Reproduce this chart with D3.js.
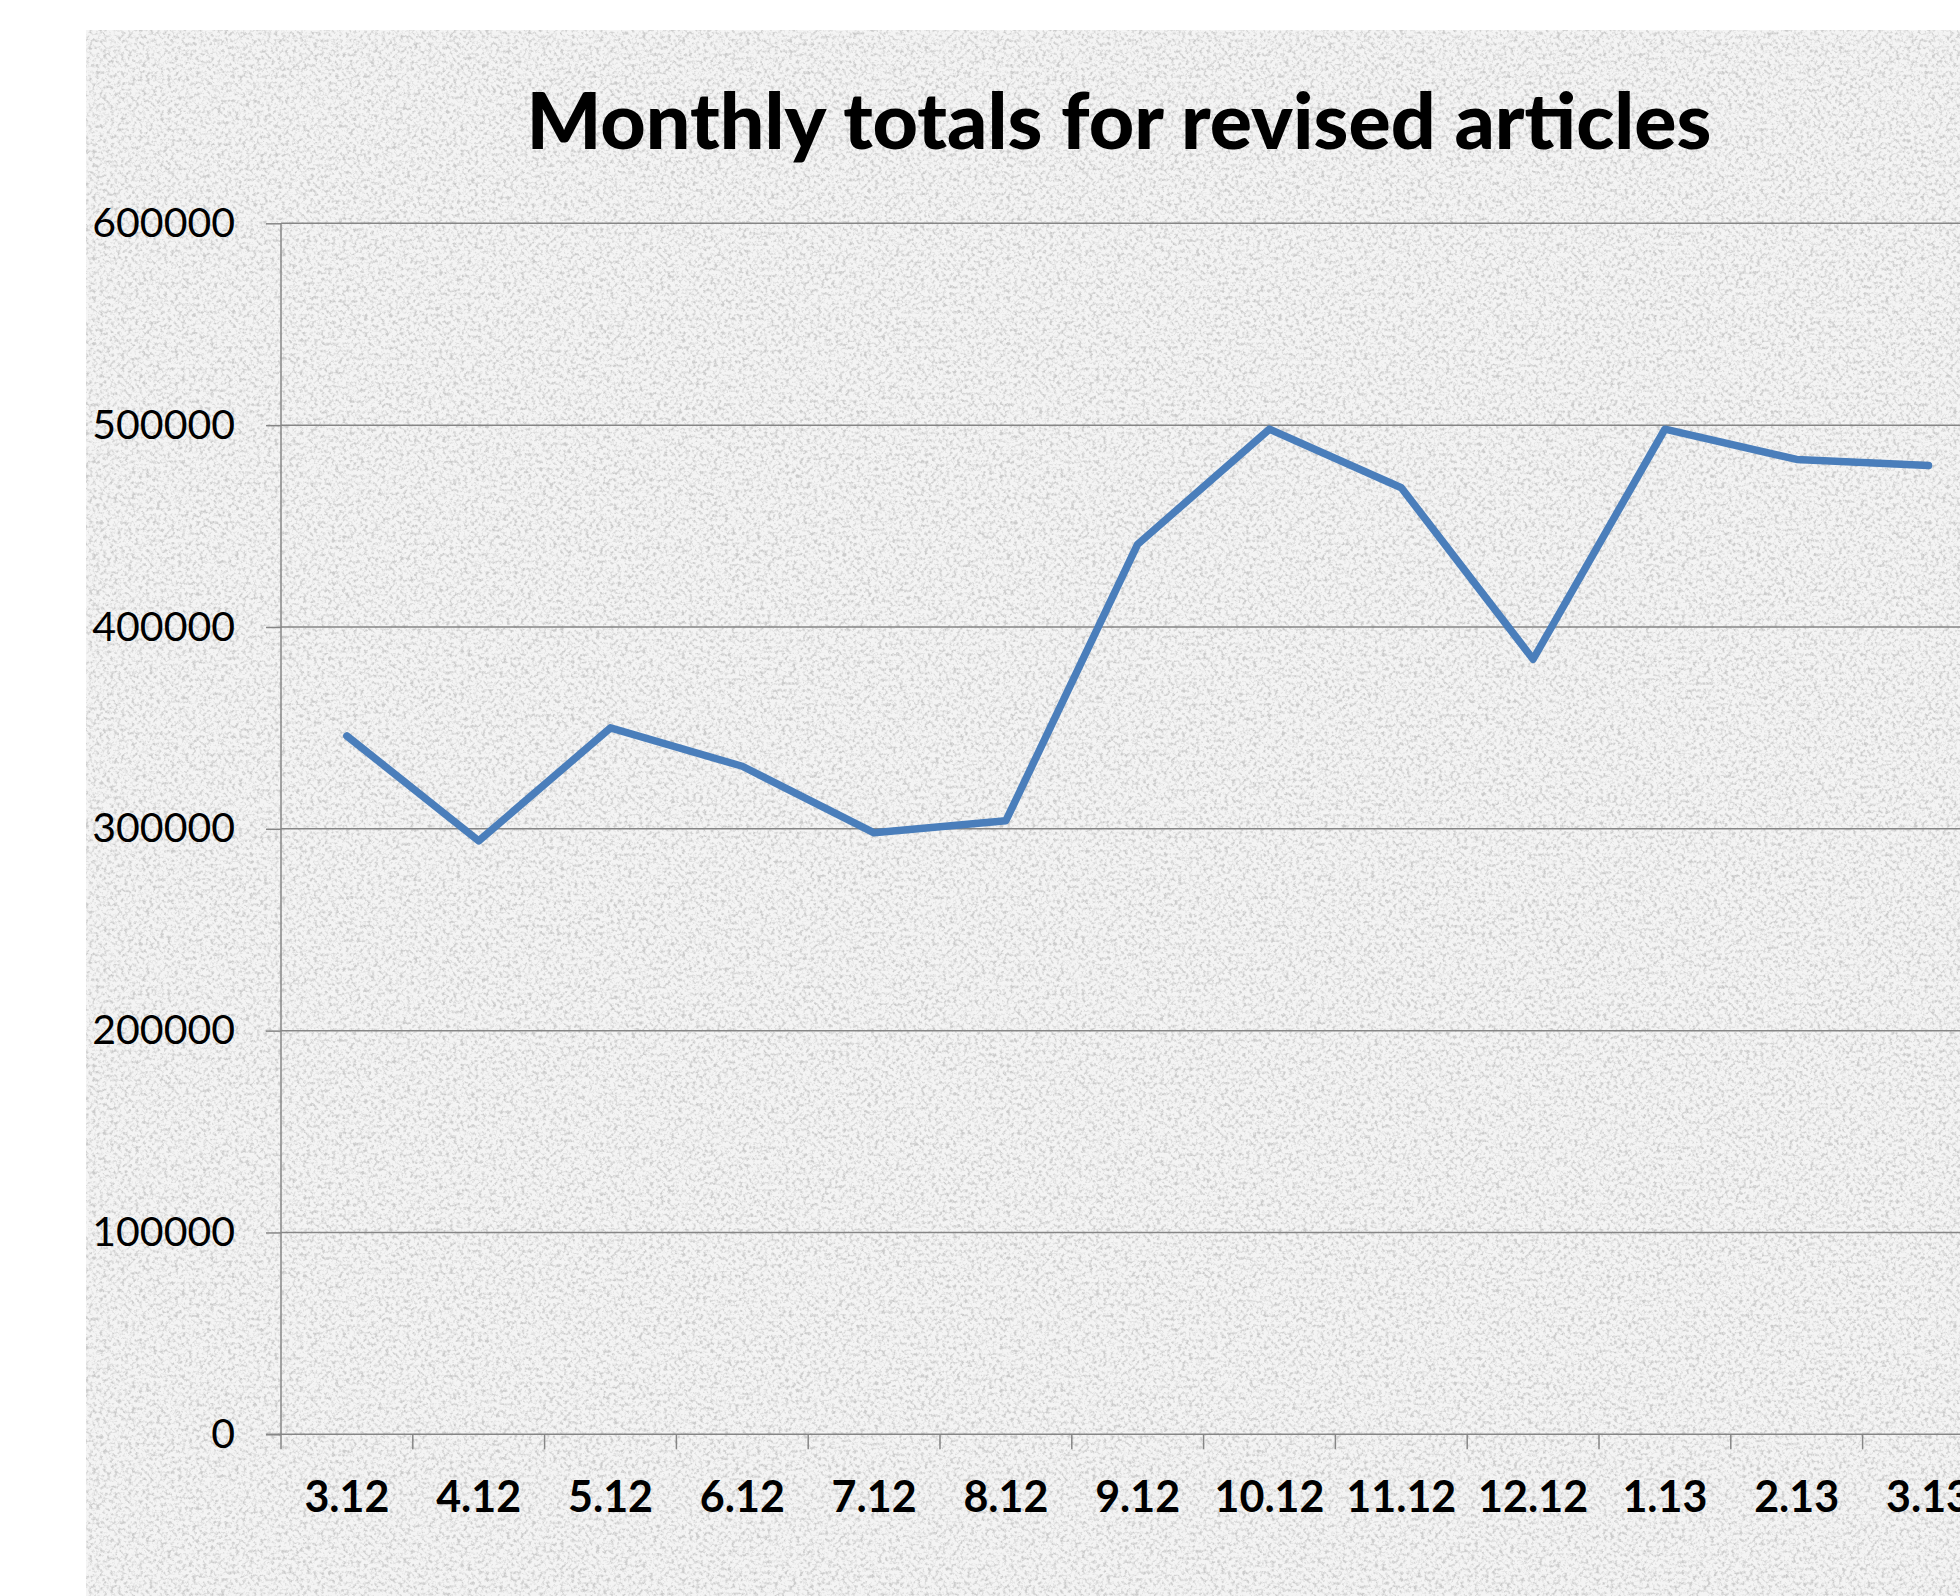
<!DOCTYPE html>
<html>
<head>
<meta charset="utf-8">
<script src="https://cdn.jsdelivr.net/npm/d3@7"></script>
<style>
  html, body { margin: 0; padding: 0; background: #fff; }
  svg { display: block; }
</style>
</head>
<body>
<div id="chart"></div>
<script>
// values
const months = ["3.12", "4.12", "5.12", "6.12", "7.12", "8.12", "9.12", "10.12", "11.12", "12.12", "1.13", "2.13", "3.13"]
const revised = [346000, 294000, 350000, 331000, 298000, 304000, 441000, 498000, 469000, 384000, 498000, 483000, 480000]
const yTicks = [0, 100000, 200000, 300000, 400000, 500000, 600000]
const title = "Monthly totals for revised articles"

const width = 1960
const height = 1596
const margin = { top: 223.3, left: 281, bottom: 1596 - 1434.3 }
const step = 131.8

const svg = d3.select("#chart")
  .append("svg")
  .attr("width", width)
  .attr("height", height)
  .attr("viewBox", [0, 0, width, height])

// paper-like grain for the chart area
const defs = svg.append("defs")
const grain = defs.append("filter")
  .attr("id", "grain")
  .attr("x", 0).attr("y", 0).attr("width", "100%").attr("height", "100%")
grain.append("feTurbulence")
  .attr("type", "fractalNoise")
  .attr("baseFrequency", 0.28)
  .attr("numOctaves", 3)
  .attr("seed", 7)
  .attr("result", "noise")
grain.append("feColorMatrix")
  .attr("in", "noise")
  .attr("type", "matrix")
  .attr("values", "0 0 0 0 0.6  0 0 0 0 0.6  0 0 0 0 0.6  3.2 0 0 0 -1.45")
  .attr("result", "speckle")
grain.append("feComposite")
  .attr("in", "speckle")
  .attr("in2", "SourceGraphic")
  .attr("operator", "over")

svg.append("rect")
  .attr("x", 86)
  .attr("y", 30)
  .attr("width", width - 86)
  .attr("height", height - 30)
  .attr("fill", "#f4f4f4")
  .attr("filter", "url(#grain)")

// scales
const x = d3.scaleBand()
  .domain(months)
  .range([margin.left, margin.left + step * months.length])
  .padding(0)

const y = d3.scaleLinear()
  .domain([0, 600000])
  .range([height - margin.bottom, margin.top])

const plotRight = margin.left + step * months.length
const gridColor = "#868686"

// horizontal gridlines
svg.append("g")
  .selectAll("line")
  .data(yTicks.filter(d => d > 0))
  .enter()
  .append("line")
  .attr("x1", margin.left)
  .attr("x2", plotRight)
  .attr("y1", d => y(d))
  .attr("y2", d => y(d))
  .attr("stroke", gridColor)
  .attr("stroke-width", 1.5)

// y axis
const yAxis = svg.append("g")
  .attr("transform", `translate(${margin.left},0)`)
  .call(d3.axisLeft(y).tickValues(yTicks).tickSize(15).tickPadding(31).tickFormat(d3.format("d")))
yAxis.select(".domain")
  .attr("d", `M0,${y(600000)}V${y(0)}`)
  .attr("stroke", gridColor)
  .attr("stroke-width", 1.5)
yAxis.selectAll(".tick line")
  .attr("stroke", gridColor)
  .attr("stroke-width", 1.5)
yAxis.selectAll(".tick text")
  .attr("fill", "#000")
  .attr("font-family", "Lato, 'Open Sans', sans-serif")
  .attr("font-size", "41px")

// x axis: baseline plus tick marks between categories
const base = y(0)
svg.append("line")
  .attr("x1", margin.left - 15)
  .attr("x2", plotRight)
  .attr("y1", base)
  .attr("y2", base)
  .attr("stroke", gridColor)
  .attr("stroke-width", 1.5)

svg.append("g")
  .selectAll("line")
  .data(months.concat(["end"]))
  .enter()
  .append("line")
  .attr("x1", (d, i) => i < months.length ? x(d) : plotRight)
  .attr("x2", (d, i) => i < months.length ? x(d) : plotRight)
  .attr("y1", base)
  .attr("y2", base + 15)
  .attr("stroke", gridColor)
  .attr("stroke-width", 1.5)

const xAxis = svg.append("g")
  .attr("transform", `translate(0,${base})`)
  .call(d3.axisBottom(x).tickSize(0))
xAxis.select(".domain").remove()
xAxis.selectAll(".tick text")
  .attr("y", 78)
  .attr("dy", 0)
  .attr("fill", "#000")
  .attr("font-family", "Lato, 'Open Sans', sans-serif")
  .attr("font-weight", "bold")
  .attr("font-size", "43px")

// series line
const line = d3.line()
  .x((d, i) => x(months[i]) + x.bandwidth() / 2)
  .y(d => y(d))

svg.append("path")
  .datum(revised)
  .attr("fill", "none")
  .attr("stroke", "#4a7ebb")
  .attr("stroke-width", 7.5)
  .attr("stroke-linejoin", "round")
  .attr("stroke-linecap", "round")
  .attr("d", line)

// title
svg.append("text")
  .attr("x", 1119)
  .attr("y", 149)
  .attr("text-anchor", "middle")
  .attr("fill", "#000")
  .attr("font-family", "Lato, 'Open Sans', sans-serif")
  .attr("font-weight", "900")
  .attr("font-size", "79px")
  .attr("textLength", 1185)
  .attr("lengthAdjust", "spacingAndGlyphs")
  .text(title)
</script>
</body>
</html>
